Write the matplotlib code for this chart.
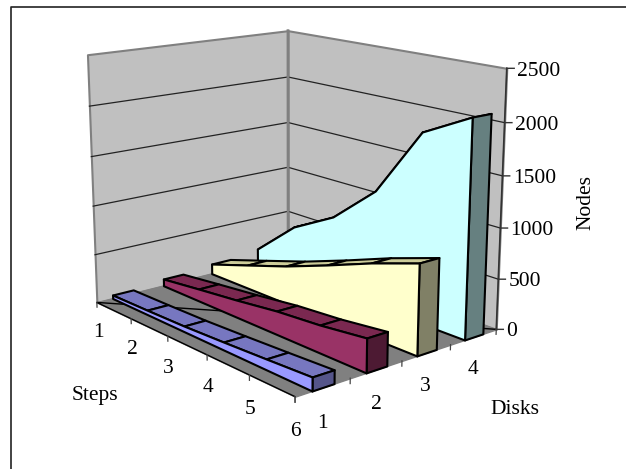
import matplotlib
matplotlib.use("Agg")
import matplotlib.pyplot as plt
from mpl_toolkits.mplot3d import proj3d
from mpl_toolkits.mplot3d.art3d import Poly3DCollection

plt.rcParams['font.family'] = ['Liberation Serif', 'DejaVu Serif']

Steps = [1, 2, 3, 4, 5, 6]
Disks = [1, 2, 3, 4]
NodeTicks = [0, 500, 1000, 1500, 2000, 2500]
Disk1 = [37, 45, 56, 77, 101, 127]
Disk2 = [74, 126, 175, 232, 268, 324]
Disk3 = [108, 249, 391, 554, 726, 877]
Disk4 = [151, 539, 783, 1180, 1870, 2110]

FontSize = 15.5

fig = plt.figure(figsize=(6.26, 4.69), dpi=100)

# Camera and box were fitted against the reference's wall and floor corners
Size = 600.0
ax = fig.add_axes([(313 - Size/2 - 30.02)/626, (234.5 - Size/2 + 34.89)/469, Size/626, Size/469],
                  projection='3d', computed_zorder=False)
ax.set_xlim(1, 6, view_margin=0)
ax.set_ylim(0, 4, view_margin=0)
ax.set_zlim(0, 2500, view_margin=0)
ax.set_proj_type('persp', focal_length=0.427)
ax.view_init(elev=14.821, azim=-39.915)
ax.set_box_aspect((325.32, 263.028, 263.882), zoom=0.797)
ax.set_xticks([])
ax.set_yticks([])
ax.set_zticks([])
ax.set_axis_off()
ax.patch.set_visible(False)


def face(verts, fc, z, lw=1.5, ec='black'):
  ax.add_collection3d(Poly3DCollection([verts], facecolors=fc, edgecolors=ec, linewidths=lw, zorder=z))


def label(x, y, z, s, ha='center'):
  # 3D point to the flat axes coordinates, so the text is placed as ordinary 2D text
  xp, yp, _ = proj3d.proj_transform(x, y, z, ax.get_proj())
  ax.text2D(xp, yp, s, transform=ax.transData, ha=ha, va='center', fontsize=FontSize, zorder=20)


x0, x1, y1, top = Steps[0], Steps[-1], len(Disks), NodeTicks[-1]

# Walls, floor, grid
face([(x0, 0, 0), (x0, y1, 0), (x0, y1, top), (x0, 0, top)], '#C0C0C0', 1, 1.5, '#808080')
face([(x0, y1, 0), (x1, y1, 0), (x1, y1, top), (x0, y1, top)], '#C0C0C0', 1, 1.5, '#808080')
face([(x0, 0, 0), (x1, 0, 0), (x1, y1, 0), (x0, y1, 0)], '#808080', 2, 1.0, '#808080')
for v in NodeTicks[1:-1]:
  ax.plot([x0, x0, x1], [0, y1, y1], [v, v, v], color='#222222', lw=0.9, zorder=3)
ax.plot([x0, x0], [y1, y1], [0, top], color='#808080', lw=2, zorder=3)
ax.plot([x1, x0, x1], [0, 0, y1], [0, 0, 0], color='black', lw=1, zorder=4)
ax.plot([x1, x1], [y1, y1], [0, top], color='#333333', lw=1.2, zorder=4)

# Ticks and labels
for s in Steps:
  ax.plot([s, s], [0, 0], [0, -50], color='#444444', lw=0.9, zorder=4)
  label(s, 0, -320, str(s))
for d in range(0, len(Disks) + 1):
  ax.plot([x1, x1], [d, d], [0, -50], color='#444444', lw=0.9, zorder=4)
for d in Disks:
  label(x1, d - 0.5, -330, str(d))
for v in NodeTicks:
  ax.plot([x1, x1 + 0.07], [y1, y1 + 0.082], [v, v], color='#333333', lw=1, zorder=4)
  label(x1 + 0.10, y1 + 0.12, v - 25, str(v), ha='left')

# Areas, back to front
Series = [Disk4, Disk3, Disk2, Disk1]
Colors = [('#CCFFFF', '#99C0C0', '#668080'), ('#FFFFCC', '#CCCC99', '#808066'),
          ('#993366', '#7A2850', '#4D1A33'), ('#9999FF', '#7777C0', '#55558A')]
for n, (vals, cols) in enumerate(zip(Series, Colors)):
  d = Disks[len(Disks) - 1 - n]
  y_a, y_b = d - 0.7, d - 0.3
  base = 10 + n*3
  for i in range(len(Steps) - 1):
    face([(Steps[i], y_a, vals[i]), (Steps[i+1], y_a, vals[i+1]),
          (Steps[i+1], y_b, vals[i+1]), (Steps[i], y_b, vals[i])], cols[1], base)
  face([(x1, y_a, 0), (x1, y_b, 0), (x1, y_b, vals[-1]), (x1, y_a, vals[-1])], cols[2], base + 1)
  face([(x0, y_a, 0)] + [(s, y_a, v) for s, v in zip(Steps, vals)] + [(x1, y_a, 0)], cols[0], base + 2)

fig.text(95/626, 1 - 395/469, 'Steps', ha='center', va='center', fontsize=FontSize)
fig.text(515/626, 1 - 409/469, 'Disks', ha='center', va='center', fontsize=FontSize)
fig.text(586/626, 1 - 203/469, 'Nodes', ha='center', va='center', rotation=90, fontsize=FontSize)
fig.add_artist(plt.Line2D([11/626, 11/626, 1], [0, 1 - 7.5/469, 1 - 7.5/469], color='#222222', lw=1.2))

fig.savefig('out.png', dpi=100)
